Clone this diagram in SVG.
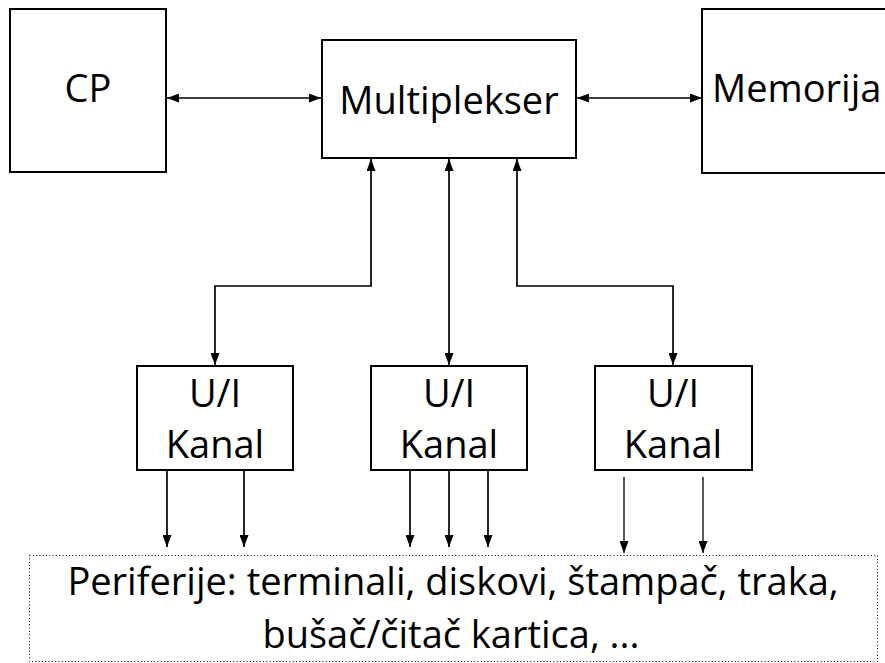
<svg xmlns="http://www.w3.org/2000/svg" width="885" height="663" viewBox="0 0 885 663">
<style>
  .box { fill: #fff; stroke: #000; stroke-width: 2; }
  .lbl { font-family: "Open Sans", "Noto Sans", sans-serif; font-size: 38px; fill: #000; text-anchor: middle; }
  .con { fill: none; stroke: #000; stroke-width: 1.7; }
  .thin { stroke-width: 1.3; }
  .dot { fill: none; stroke: #000; stroke-width: 1; stroke-dasharray: 1 2.3; }
</style>
<defs>
  <marker id="ah" viewBox="0 0 12 8" refX="12" refY="4" markerWidth="12" markerHeight="9" markerUnits="userSpaceOnUse" orient="auto-start-reverse" preserveAspectRatio="none">
    <path d="M0,0 L12,4 L0,8 z" fill="#000"/>
  </marker>
</defs>
<g id="cp">
  <rect class="box" x="10" y="9" width="156" height="163"/>
  <text class="lbl" x="88" y="102">CP</text>
</g>
<g id="mux">
  <rect class="box" x="322" y="40" width="254" height="118"/>
  <text class="lbl" x="449" y="114">Multiplekser</text>
</g>
<g id="mem">
  <rect class="box" x="702" y="9" width="200" height="164"/>
  <text class="lbl" x="712" y="102" style="text-anchor:start">Memorija</text>
</g>
<g id="ch1">
  <rect class="box" x="137" y="366" width="156" height="104"/>
  <text class="lbl" x="215" y="407">U/I</text>
  <text class="lbl" x="215" y="458">Kanal</text>
</g>
<g id="ch2">
  <rect class="box" x="371" y="366" width="156" height="104"/>
  <text class="lbl" x="449" y="407">U/I</text>
  <text class="lbl" x="449" y="458">Kanal</text>
</g>
<g id="ch3">
  <rect class="box" x="595" y="366" width="157" height="104"/>
  <text class="lbl" x="673" y="407">U/I</text>
  <text class="lbl" x="673" y="458">Kanal</text>
</g>
<g id="periph">
  <rect class="dot" x="29.5" y="555.5" width="848" height="106"/>
  <text class="lbl" x="453" y="595">Periferije: terminali, diskovi, štampač, traka,</text>
  <text class="lbl" x="451" y="648">bušač/čitač kartica, ...</text>
</g>
<g id="connectors">
  <path class="con" d="M167,98 H321" marker-start="url(#ah)" marker-end="url(#ah)"/>
  <path class="con" d="M577,98 H702" marker-start="url(#ah)" marker-end="url(#ah)"/>
  <path class="con" d="M371,159 V286 H215 V365" marker-start="url(#ah)" marker-end="url(#ah)"/>
  <path class="con" d="M449,159 V365" marker-start="url(#ah)" marker-end="url(#ah)"/>
  <path class="con" d="M517,159 V286 H673 V365" marker-start="url(#ah)" marker-end="url(#ah)"/>
  <path class="con" d="M167,471 V547" marker-end="url(#ah)"/>
  <path class="con" d="M244,471 V547" marker-end="url(#ah)"/>
  <path class="con" d="M410,471 V547" marker-end="url(#ah)"/>
  <path class="con" d="M449,471 V547" marker-end="url(#ah)"/>
  <path class="con" d="M488,471 V547" marker-end="url(#ah)"/>
  <path class="con thin" d="M624,477 V553" marker-end="url(#ah)"/>
  <path class="con thin" d="M703,477 V553" marker-end="url(#ah)"/>
</g>
</svg>
